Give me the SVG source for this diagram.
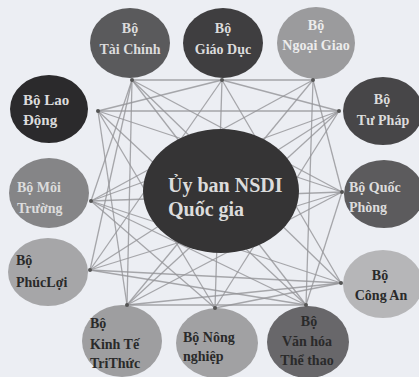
<svg xmlns="http://www.w3.org/2000/svg" width="419" height="377" viewBox="0 0 419 377">
<style>
.bg{fill:#eceef3}
.e line{stroke:#939397;stroke-width:1.3;stroke-opacity:0.8}
.t{font-family:"Liberation Serif","DejaVu Serif",serif;font-weight:bold;font-size:14px}
.lt{fill:#dcdcdc}
.dk{fill:#2a2a2a}
.hub{fill:#555}
</style>
<rect class="bg" x="0" y="0" width="419" height="377"/>
<g id="connectors" class="e">
<line x1="132" y1="80" x2="313" y2="80"/>
<line x1="132" y1="80" x2="91" y2="201"/>
<line x1="132" y1="80" x2="90" y2="270"/>
<line x1="132" y1="80" x2="127" y2="305"/>
<line x1="132" y1="80" x2="342" y2="192"/>
<line x1="132" y1="80" x2="341" y2="283"/>
<line x1="132" y1="80" x2="306" y2="305"/>
<line x1="222" y1="80" x2="98" y2="111"/>
<line x1="222" y1="80" x2="339" y2="111"/>
<line x1="222" y1="80" x2="215" y2="308"/>
<line x1="222" y1="80" x2="90" y2="270"/>
<line x1="222" y1="80" x2="341" y2="283"/>
<line x1="313" y1="80" x2="342" y2="192"/>
<line x1="313" y1="80" x2="91" y2="201"/>
<line x1="313" y1="80" x2="306" y2="305"/>
<line x1="313" y1="80" x2="127" y2="305"/>
<line x1="98" y1="111" x2="339" y2="111"/>
<line x1="98" y1="111" x2="127" y2="305"/>
<line x1="98" y1="111" x2="215" y2="308"/>
<line x1="98" y1="111" x2="342" y2="192"/>
<line x1="98" y1="111" x2="306" y2="305"/>
<line x1="339" y1="111" x2="91" y2="201"/>
<line x1="339" y1="111" x2="90" y2="270"/>
<line x1="339" y1="111" x2="215" y2="308"/>
<line x1="339" y1="111" x2="127" y2="305"/>
<line x1="91" y1="201" x2="342" y2="192"/>
<line x1="91" y1="201" x2="341" y2="283"/>
<line x1="91" y1="201" x2="215" y2="308"/>
<line x1="91" y1="201" x2="306" y2="305"/>
<line x1="342" y1="192" x2="90" y2="270"/>
<line x1="342" y1="192" x2="127" y2="305"/>
<line x1="342" y1="192" x2="306" y2="305"/>
<line x1="90" y1="270" x2="341" y2="283"/>
<line x1="90" y1="270" x2="306" y2="305"/>
<line x1="341" y1="283" x2="127" y2="305"/>
<line x1="341" y1="283" x2="215" y2="308"/>
<line x1="127" y1="305" x2="306" y2="305"/>
</g>
<g id="n-center"><ellipse cx="221" cy="191" rx="78" ry="62" fill="#353435"/>
<text class="t lt" x="168" y="192" style="font-size:20px">Ủy ban NSDI</text>
<text class="t lt" x="168" y="216" style="font-size:20px">Quốc gia</text></g>
<g id="n-taichinh"><ellipse cx="130" cy="43" rx="40" ry="35" fill="#5a5a5c"/>
<text class="t lt" text-anchor="middle" x="130" y="33">Bộ</text>
<text class="t lt" text-anchor="middle" x="130" y="54">Tài Chính</text></g>
<g id="n-giaoduc"><ellipse cx="223" cy="43" rx="40" ry="35" fill="#3f3e40"/>
<text class="t lt" text-anchor="middle" x="223" y="33">Bộ</text>
<text class="t lt" text-anchor="middle" x="223" y="54">Giáo Dục</text></g>
<g id="n-ngoaigiao"><ellipse cx="316" cy="43" rx="39" ry="36" fill="#9b9b9d"/>
<text class="t" fill="#ececec" text-anchor="middle" x="316" y="30">Bộ</text>
<text class="t" fill="#ececec" text-anchor="middle" x="316" y="50">Ngoại Giao</text></g>
<g id="n-laodong"><ellipse cx="49" cy="109" rx="39" ry="34" fill="#2b2a2c"/>
<text class="t lt" x="23" y="105" style="font-size:15px">Bộ Lao</text>
<text class="t lt" x="23" y="125" style="font-size:15px">Động</text></g>
<g id="n-tuphap"><ellipse cx="383" cy="111" rx="40" ry="34" fill="#474648"/>
<text class="t lt" text-anchor="middle" x="382" y="104">Bộ</text>
<text class="t lt" text-anchor="middle" x="383" y="125">Tư Pháp</text></g>
<g id="n-moitruong"><ellipse cx="49" cy="193" rx="40" ry="35" fill="#858587"/>
<text class="t lt" x="17" y="192">Bộ Môi</text>
<text class="t lt" x="17" y="213">Trường</text></g>
<g id="n-quocphong"><ellipse cx="384" cy="194" rx="40" ry="34" fill="#5c5b5d"/>
<text class="t lt" x="349" y="192">Bộ Quốc</text>
<text class="t lt" x="349" y="212">Phòng</text></g>
<g id="n-phucloi"><ellipse cx="48" cy="272" rx="40" ry="34" fill="#a6a6a8"/>
<text class="t dk" x="16" y="265">Bộ</text>
<text class="t dk" x="16" y="287">PhúcLợi</text></g>
<g id="n-congan"><ellipse cx="383" cy="284" rx="40" ry="34" fill="#b6b6b8"/>
<text class="t dk" text-anchor="middle" x="380" y="280">Bộ</text>
<text class="t dk" text-anchor="middle" x="381" y="300">Công An</text></g>
<g id="n-kinhte"><ellipse cx="122" cy="341" rx="40" ry="36" fill="#9e9ea0"/>
<text class="t dk" x="90" y="328">Bộ</text>
<text class="t dk" x="90" y="349">Kinh Tế</text>
<text class="t dk" x="90" y="368">TriThức</text></g>
<g id="n-nongnghiep"><ellipse cx="217" cy="343" rx="41" ry="35" fill="#a1a1a3"/>
<text class="t dk" x="183" y="342">Bộ Nông</text>
<text class="t dk" x="183" y="361">nghiệp</text></g>
<g id="n-vanhoa"><ellipse cx="308" cy="342" rx="41" ry="36" fill="#68676a"/>
<text class="t dk" text-anchor="middle" x="309" y="326">Bộ</text>
<text class="t dk" text-anchor="middle" x="307" y="346">Văn hóa</text>
<text class="t dk" text-anchor="middle" x="307" y="365">Thể thao</text></g>
<g id="hubs" class="hub">
<circle cx="132" cy="80" r="2"/><circle cx="222" cy="80" r="2"/><circle cx="313" cy="80" r="2"/>
<circle cx="98" cy="111" r="2"/><circle cx="339" cy="111" r="2"/><circle cx="91" cy="201" r="2"/>
<circle cx="342" cy="192" r="2"/><circle cx="90" cy="270" r="2"/><circle cx="341" cy="283" r="2"/>
<circle cx="127" cy="305" r="2"/><circle cx="215" cy="308" r="2"/><circle cx="306" cy="305" r="2"/>
</g>
</svg>
